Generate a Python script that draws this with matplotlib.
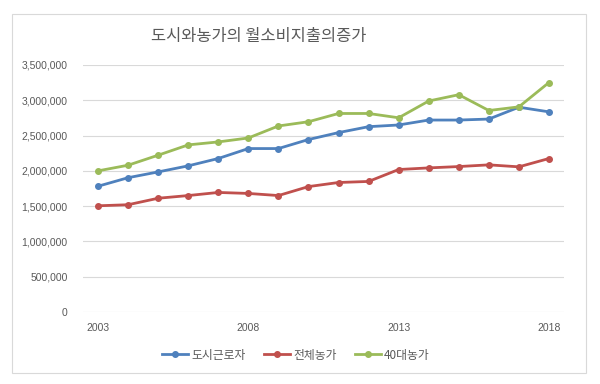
import matplotlib.pyplot as plt
from matplotlib.patches import Rectangle
from matplotlib.ticker import FuncFormatter

# data
years = list(range(2003, 2019))
city_workers = [1782000, 1903000, 1985000, 2071000, 2175000, 2316000, 2316000, 2444000,
                2542000, 2626000, 2650000, 2720000, 2720000, 2734000, 2902000, 2836000]
all_farms = [1505000, 1520000, 1612000, 1650000, 1694000, 1680000, 1650000, 1777000,
             1835000, 1850000, 2019000, 2042000, 2061000, 2085000, 2057000, 2175000]
farms_40s = [2000000, 2080000, 2222000, 2368000, 2410000, 2466000, 2636000, 2696000,
             2813000, 2813000, 2752000, 2990000, 3079000, 2855000, 2907000, 3252000]
series_names = ['도시근로자', '전체농가', '40대농가']
colors = ['#4F81BD', '#C0504D', '#9BBB59']
title = '도시와농가의 월소비지출의증가'

plt.rcParams['font.family'] = ['Liberation Sans Narrow', 'Liberation Sans', 'Noto Sans CJK KR']
kr = ['Noto Sans CJK KR', 'DejaVu Sans']
text_col = '#595959'

fig = plt.figure(figsize=(6, 3.84), dpi=100)
fig.patches.append(Rectangle((12 / 600, 1 - 373 / 384), 574 / 600, 359 / 384,
                             transform=fig.transFigure, fill=False,
                             edgecolor='#D9D9D9', linewidth=0.8))
ax = fig.add_axes([83 / 600, 1 - 312 / 384, 481 / 600, 247 / 384])

for vals, name, c in zip([city_workers, all_farms, farms_40s], series_names, colors):
    ax.plot(years, vals, '-o', color=c, linewidth=2.0, markersize=4, label=name)

ax.set_xlim(2002.5, 2018.5)
ax.set_ylim(0, 3500000)
ax.set_xticks([2003, 2008, 2013, 2018])
ax.set_yticks(range(0, 3500001, 500000))
ax.yaxis.set_major_formatter(FuncFormatter(lambda v, p: f'{int(v):,}'))
ax.grid(axis='y', color='#D9D9D9', linewidth=0.8)
ax.set_axisbelow(True)
for s in ax.spines.values():
    s.set_visible(False)
ax.tick_params(axis='both', length=0, labelsize=7.5, labelcolor=text_col)
ax.tick_params(axis='y', pad=11)
ax.tick_params(axis='x', pad=8)

fig.text(259 / 600, 1 - 36 / 384, title, ha='center', va='center',
         fontsize=11.8, color=text_col, family=kr)

leg = fig.legend(loc='center', bbox_to_anchor=(296 / 600, 1 - 355 / 384), ncol=3,
                 frameon=False, prop={'family': kr, 'size': 8.5},
                 handlelength=2.2, handletextpad=0.3, columnspacing=1.5)
for t in leg.get_texts():
    t.set_color(text_col)

fig.savefig('out.png', dpi=100)
